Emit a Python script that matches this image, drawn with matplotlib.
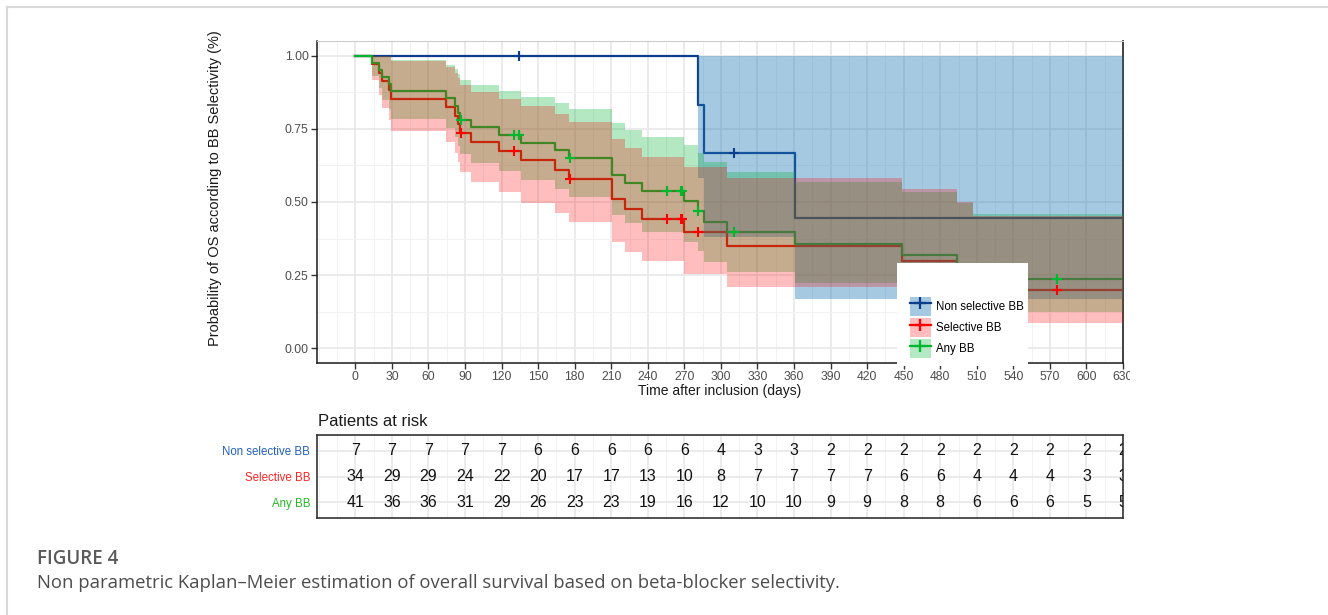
import numpy as np
import matplotlib
matplotlib.use("Agg")
import matplotlib.pyplot as plt
from matplotlib.lines import Line2D
from matplotlib.patches import Patch, Rectangle
from matplotlib.transforms import Bbox, TransformedBbox
from matplotlib.ticker import MultipleLocator

# ---------------- data ----------------
groups = ["Non selective BB", "Selective BB", "Any BB"]

times_ns = [0, 281, 286, 361, 630]
surv_ns = [1.0, 0.833, 0.667, 0.444, 0.444]
lower_ns = [1.0, 0.583, 0.379, 0.167, 0.167]
upper_ns = [1.0, 1.0, 1.0, 1.0, 1.0]
cens_ns = [134, 311]

times_sel = [0, 14, 19, 22, 28, 29, 74, 82, 84, 86, 95, 118, 136, 164, 175,
             211, 221, 235, 270, 305, 449, 494, 507, 630]
surv_sel = [1.0, 0.971, 0.941, 0.912, 0.882, 0.853, 0.824, 0.794, 0.765, 0.735,
            0.705, 0.674, 0.642, 0.610, 0.578, 0.510, 0.476, 0.442, 0.398, 0.348,
            0.298, 0.249, 0.199, 0.199]
lower_sel = [1.0, 0.916, 0.865, 0.821, 0.781, 0.742, 0.705, 0.669, 0.635, 0.601,
             0.567, 0.533, 0.498, 0.464, 0.431, 0.363, 0.330, 0.298, 0.255, 0.208,
             0.164, 0.124, 0.087, 0.087]
upper_sel = [1.0, 1.0, 1.0, 1.0, 0.998, 0.981, 0.962, 0.942, 0.922, 0.900,
             0.877, 0.853, 0.827, 0.801, 0.774, 0.716, 0.686, 0.655, 0.620, 0.583,
             0.543, 0.499, 0.453, 0.453]
cens_sel = [87, 130, 176, 256, 267, 268, 281, 576]

times_any = [0, 14, 19, 22, 28, 29, 74, 82, 84, 86, 95, 118, 136, 164, 175,
             211, 221, 235, 270, 281, 286, 305, 361, 449, 494, 507, 630]
surv_any = [1.0, 0.976, 0.951, 0.927, 0.902, 0.878, 0.854, 0.829, 0.805, 0.780,
            0.755, 0.730, 0.703, 0.676, 0.649, 0.593, 0.564, 0.536, 0.503, 0.469,
            0.433, 0.397, 0.357, 0.318, 0.278, 0.238, 0.238]
lower_any = [1.0, 0.930, 0.888, 0.850, 0.816, 0.783, 0.752, 0.722, 0.692, 0.664,
             0.634, 0.606, 0.575, 0.545, 0.516, 0.456, 0.427, 0.399, 0.364, 0.331,
             0.295, 0.261, 0.224, 0.189, 0.155, 0.124, 0.124]
upper_any = [1.0, 1.0, 1.0, 1.0, 0.998, 0.984, 0.969, 0.953, 0.936, 0.918,
             0.899, 0.880, 0.860, 0.838, 0.816, 0.770, 0.746, 0.721, 0.694, 0.666,
             0.635, 0.604, 0.570, 0.535, 0.498, 0.460, 0.460]
cens_any = [87, 130, 134, 176, 256, 267, 268, 281, 311, 576]

risk_times = list(range(0, 631, 30))
risk_ns = [7, 7, 7, 7, 7, 6, 6, 6, 6, 6, 4, 3, 3, 2, 2, 2, 2, 2, 2, 2, 2, 2]
risk_sel = [34, 29, 29, 24, 22, 20, 17, 17, 13, 10, 8, 7, 7, 7, 7, 6, 6, 4, 4, 4, 3, 3]
risk_any = [41, 36, 36, 31, 29, 26, 23, 23, 19, 16, 12, 10, 10, 9, 9, 8, 8, 6, 6, 6, 5, 5]

x_ticks = list(range(0, 631, 30))
y_ticks = [0.0, 0.25, 0.5, 0.75, 1.0]
y_tick_labels = ["0.00", "0.25", "0.50", "0.75", "1.00"]

# ---------------- styles ----------------
line_cols = ["#0C3C8C", "#FF0000", "#00B82E"]
fill_cols = [(0.12, 0.47, 0.71, 0.40), (1.0, 0.0, 0.0, 0.26), (0.02, 0.70, 0.22, 0.30)]
label_cols = ["#1F5FBF", "#FF2222", "#22BB22"]

W, H = 1328, 615
plt.rcParams["font.family"] = ["Liberation Sans", "DejaVu Sans"]
fig = plt.figure(figsize=(W / 100, H / 100), dpi=100)


def fx(px):
    return px / W


def fy(py):
    return 1 - py / H


# ---------------- main KM panel ----------------
ax = fig.add_axes([fx(317), fy(363), fx(1123) - fx(317), fy(41) - fy(363)])
ax.set_xlim(-31.5, 630)
ax.set_ylim(-0.05, 1.05)
ax.set_axisbelow(True)
ax.xaxis.set_major_locator(plt.FixedLocator(x_ticks))
ax.xaxis.set_minor_locator(MultipleLocator(15))
ax.set_yticks(y_ticks)
ax.set_yticklabels(y_tick_labels)
ax.yaxis.set_minor_locator(MultipleLocator(0.125))
ax.grid(which="major", color="#E8E8E8", lw=1.2)
ax.grid(which="minor", color="#F2F2F2", lw=0.7)
ax.tick_params(which="major", length=4, width=1, color="#333333",
               labelsize=8.7, labelcolor="#4D4D4D", pad=2)
ax.tick_params(which="minor", length=0)
for s in ["left", "bottom"]:
    ax.spines[s].set_color("#1A1A1A")
    ax.spines[s].set_linewidth(1.1)
ax.spines["top"].set_color("#CCCCCC")
ax.spines["right"].set_color("#333333")
ax.spines["right"].set_linewidth(1.3)

series = [
    (times_ns, surv_ns, lower_ns, upper_ns, cens_ns),
    (times_sel, surv_sel, lower_sel, upper_sel, cens_sel),
    (times_any, surv_any, lower_any, upper_any, cens_any),
]

# lines first (ribbons are painted over them)
for (t, s, lo, up, c), lc in zip(series, line_cols):
    ax.step(t, s, where="post", color=lc, lw=1.6, zorder=2)
# ribbons: blue, then green, then red
for idx in [0, 2, 1]:
    t, s, lo, up, c = series[idx]
    ax.fill_between(t, lo, up, step="post", color=fill_cols[idx], lw=0, zorder=3)
# censor marks
for (t, s, lo, up, c), lc in zip(series, line_cols):
    ta = np.asarray(t)
    sa = np.asarray(s)
    cy = sa[np.searchsorted(ta, np.asarray(c), side="right") - 1]
    ax.plot(c, cy, linestyle="none", marker="+", ms=7, mew=1.5, color=lc, zorder=4)

# clip the x tick labels at the right like the reference (last one is cut)
fig.canvas.draw()
clipbox = TransformedBbox(Bbox([[0, 0], [fx(1130), 1]]), fig.transFigure)
for lab in ax.get_xticklabels():
    lab.set_clip_box(clipbox)
    lab.set_clip_on(True)

fig.text(fx(720), fy(391), "Time after inclusion (days)", ha="center", va="center",
         fontsize=10, color="#1A1A1A")
fig.text(fx(215), fy(188), "Probability of OS according to BB Selectivity (%)",
         rotation=90, ha="center", va="center", fontsize=10.5, color="#1A1A1A")

# legend (white box covering the panel corner)
fig.add_artist(Rectangle((fx(897), fy(366)), fx(1028) - fx(897), fy(263) - fy(366),
                         transform=fig.transFigure, facecolor="white",
                         edgecolor="none", zorder=10))
handles = []
for lc, fc in zip(line_cols, fill_cols):
    handles.append((Patch(facecolor=fc, edgecolor="none"),
                    Line2D([], [], color=lc, lw=1.6, marker="+", ms=9, mew=1.6)))
leg = fig.legend(handles, groups, loc="upper left",
                 bbox_to_anchor=(fx(904), fy(291)), frameon=False, borderpad=0,
                 fontsize=8.3, handlelength=1.85, handleheight=2.15,
                 labelspacing=0.2, handletextpad=0.4)
leg.set_zorder(11)

# ---------------- risk table ----------------
tax = fig.add_axes([fx(317), fy(518), fx(1123) - fx(317), fy(435) - fy(518)])
tax.set_xlim(-31.5, 630)
tax.set_ylim(0.4, 3.6)
tax.set_axisbelow(True)
tax.xaxis.set_major_locator(plt.FixedLocator(x_ticks))
tax.xaxis.set_minor_locator(MultipleLocator(15))
tax.set_yticks([3, 2, 1])
tax.set_yticklabels(groups)
for lab, col in zip(tax.get_yticklabels(), label_cols):
    lab.set_color(col)
tax.tick_params(axis="y", length=0, labelsize=8.3, pad=5)
tax.tick_params(axis="x", which="both", length=0, labelbottom=False)
tax.grid(which="major", color="#E8E8E8", lw=1.2)
tax.grid(which="minor", axis="x", color="#F2F2F2", lw=0.7)
for s in tax.spines.values():
    s.set_color("#333333")
    s.set_linewidth(1.2)
for row, vals in zip([3, 2, 1], [risk_ns, risk_sel, risk_any]):
    for t, v in zip(risk_times, vals):
        tax.text(t, row, str(v), ha="center", va="center", fontsize=11.5,
                 color="#111111", clip_on=True)

fig.text(fx(318), fy(426), "Patients at risk", fontsize=12, va="baseline",
         color="#1A1A1A")

# ---------------- page frame and caption ----------------
fig.add_artist(Line2D([fx(6.7), 1], [fy(7.3), fy(7.3)], transform=fig.transFigure,
                      color="#D9D9D9", lw=1.5))
fig.add_artist(Line2D([fx(6.7), fx(6.7)], [fy(7.3), 0], transform=fig.transFigure,
                      color="#D9D9D9", lw=1.5))
fig.text(fx(36.7), fy(563.5), "FIGURE 4", fontfamily=["Open Sans", "DejaVu Sans"],
         fontweight="semibold", fontsize=13.5, color="#5A5A5A", va="baseline")
fig.text(fx(36.7), fy(588),
         "Non parametric Kaplan\u2013Meier estimation of overall survival based on "
         "beta-blocker selectivity.",
         fontfamily=["Open Sans", "DejaVu Sans"], fontsize=13.3, color="#4D4D4D",
         va="baseline")

fig.savefig("out.png", dpi=100)
